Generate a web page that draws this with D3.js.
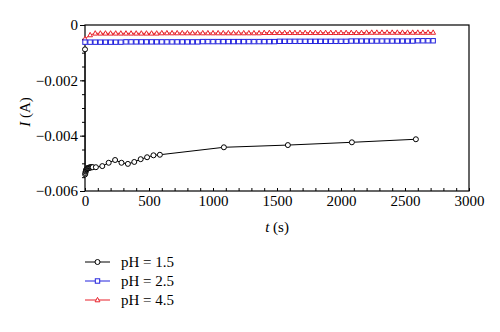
<!DOCTYPE html>
<html>
<head>
<meta charset="utf-8">
<script src="https://cdn.jsdelivr.net/npm/d3@7"></script>
<style>
  html, body { margin: 0; padding: 0; background: #fff; }
  svg text { font-family: "Liberation Serif", "DejaVu Serif", serif !important; }
</style>
</head>
<body>
<svg id="chart" width="500" height="332"></svg>
<script>
// ---- data ----
const seriesNames = ["pH = 1.5", "pH = 2.5", "pH = 4.5"];
const xTicks = [0, 500, 1000, 1500, 2000, 2500, 3000];
const yTicks = [0, -0.002, -0.004, -0.006];
const yTickLabels = ["0", "\u22120.002", "\u22120.004", "\u22120.006"];

// pH = 1.5
const t15 = [0, 1, 3, 5, 7, 9, 11, 14, 17, 20, 24, 28, 32, 36, 40, 45, 50, 55, 60,
             85, 135, 185, 235, 285, 335, 385, 435, 485, 535, 585,
             1085, 1585, 2085, 2585];
const i15 = [-0.00088, -0.00540, -0.00535, -0.00530, -0.00527, -0.00524, -0.00522, -0.00520, -0.00519, -0.00518,
             -0.00517, -0.00516, -0.00516, -0.00515, -0.00515, -0.00515, -0.00514, -0.00514, -0.00514,
             -0.00514, -0.00510, -0.00498, -0.00488, -0.00498, -0.00502, -0.00495, -0.00485, -0.00478, -0.00471, -0.00469,
             -0.00442, -0.00434, -0.00424, -0.00413];

// time grid for pH = 2.5 and pH = 4.5
const tGrid = [0, 40, 80, 120, 160, 200, 240, 280, 320, 360, 400, 440, 480, 520, 560, 600,
               640, 680, 720, 760, 800, 840, 880, 920, 960, 1000, 1040, 1080, 1120, 1160, 1200,
               1240, 1280, 1320, 1360, 1400, 1440, 1480, 1520, 1560, 1600, 1640, 1680, 1720, 1760,
               1800, 1840, 1880, 1920, 1960, 2000, 2040, 2080, 2120, 2160, 2200, 2240, 2280, 2320,
               2360, 2400, 2440, 2480, 2520, 2560, 2600, 2640, 2680, 2720];

// pH = 2.5
const i25 = [-0.00062, -0.00062, -0.00062, -0.00062, -0.00062, -0.00062, -0.00062, -0.00062, -0.00061, -0.00061,
             -0.00061, -0.00061, -0.00061, -0.00061, -0.00061, -0.00061, -0.00061, -0.00061, -0.00061, -0.00061,
             -0.00061, -0.00061, -0.00061, -0.00060, -0.00060, -0.00060, -0.00060, -0.00060, -0.00060, -0.00060,
             -0.00060, -0.00060, -0.00060, -0.00060, -0.00060, -0.00060, -0.00060, -0.00060, -0.00059, -0.00059,
             -0.00059, -0.00059, -0.00059, -0.00059, -0.00059, -0.00059, -0.00059, -0.00059, -0.00059, -0.00059,
             -0.00059, -0.00059, -0.00058, -0.00058, -0.00058, -0.00058, -0.00058, -0.00058, -0.00058, -0.00058,
             -0.00058, -0.00058, -0.00058, -0.00058, -0.00058, -0.00057, -0.00057, -0.00057, -0.00057];

// pH = 4.5
const i45 = [-0.00050, -0.00036, -0.00030, -0.00030, -0.00030, -0.00030, -0.00030, -0.00030, -0.00030, -0.00030,
             -0.00030, -0.00030, -0.00030, -0.00030, -0.00030, -0.00029, -0.00029, -0.00029, -0.00029, -0.00029,
             -0.00029, -0.00029, -0.00029, -0.00029, -0.00029, -0.00029, -0.00029, -0.00029, -0.00029, -0.00029,
             -0.00029, -0.00029, -0.00029, -0.00029, -0.00029, -0.00028, -0.00028, -0.00028, -0.00028, -0.00028,
             -0.00028, -0.00028, -0.00028, -0.00028, -0.00028, -0.00028, -0.00028, -0.00028, -0.00028, -0.00028,
             -0.00028, -0.00028, -0.00028, -0.00028, -0.00028, -0.00027, -0.00027, -0.00027, -0.00027, -0.00027,
             -0.00027, -0.00027, -0.00027, -0.00027, -0.00027, -0.00027, -0.00027, -0.00027, -0.00027];

// ---- layout ----
const svg = d3.select("#chart");
const L = 85, R = 469, T = 25, B = 191;
const x = d3.scaleLinear().domain([0, 3000]).range([L, R]);
const y = d3.scaleLinear().domain([-0.006, 0]).range([B, T]);
const FONT = "'Liberation Serif', 'DejaVu Serif', serif";

const series = [
  { name: seriesNames[0], t: t15, v: i15, color: "#000000", sym: "circle" },
  { name: seriesNames[1], t: tGrid, v: i25, color: "#2222dd", sym: "square" },
  { name: seriesNames[2], t: tGrid, v: i45, color: "#e8212a", sym: "triangle" }
];

// frame
svg.append("rect").attr("x", L).attr("y", T).attr("width", R - L).attr("height", B - T)
  .attr("fill", "none").attr("stroke", "#000").attr("stroke-width", 1.2);

// x axis: ticks inward
const xMinor = d3.range(0, 3001, 100);
svg.append("g").attr("transform", `translate(0,${B})`)
  .call(d3.axisTop(x).tickValues(xMinor).tickSize(3).tickFormat(""))
  .call(g => g.select(".domain").remove());
const xLab = svg.append("g").attr("transform", `translate(0,${B})`);
xLab.call(d3.axisBottom(x).tickValues(xTicks).tickSize(0).tickPadding(4).tickFormat(d3.format("d")))
  .call(g => g.select(".domain").remove());
xLab.attr("font-family", null).attr("font-size", null);
xLab.selectAll("text").style("font-size", "15px").style("font-family", FONT).attr("fill", "#000");

// y axis: ticks outward
const yMinor = d3.range(0, 13).map(k => -0.0005 * k);
svg.append("g").attr("transform", `translate(${L},0)`)
  .call(d3.axisLeft(y).tickValues(yMinor).tickSize(3).tickFormat(""))
  .call(g => g.select(".domain").remove());
const yLab = svg.append("g").attr("transform", `translate(${L},0)`);
yLab.call(d3.axisLeft(y).tickValues(yTicks).tickSize(5).tickPadding(2)
    .tickFormat((d, i) => yTickLabels[i]))
  .call(g => g.select(".domain").remove());
yLab.attr("font-family", null).attr("font-size", null);
yLab.selectAll("text").style("font-size", "15px").style("font-family", FONT).attr("fill", "#000");
svg.selectAll(".tick line").attr("stroke", "#000");

// axis titles
svg.append("text").attr("x", 277).attr("y", 232).attr("text-anchor", "middle")
  .style("font-size", "15px").style("font-family", FONT)
  .call(t => { t.append("tspan").attr("font-style", "italic").text("t"); t.append("tspan").text(" (s)"); });
svg.append("text").attr("transform", "translate(30,112) rotate(-90)").attr("text-anchor", "middle")
  .style("font-size", "15px").style("font-family", FONT)
  .call(t => { t.append("tspan").attr("font-style", "italic").text("I"); t.append("tspan").text(" (A)"); });

// markers
function drawMarker(g, sym, cx, cy, color) {
  if (sym === "circle") {
    g.append("circle").attr("cx", cx).attr("cy", cy).attr("r", 2.5)
      .attr("fill", "#fff").attr("stroke", color).attr("stroke-width", 1);
  } else if (sym === "square") {
    g.append("rect").attr("x", cx - 2.2).attr("y", cy - 2.2).attr("width", 4.4).attr("height", 4.4)
      .attr("fill", "#fff").attr("stroke", color).attr("stroke-width", 1);
  } else {
    g.append("path").attr("d", `M${cx},${cy - 2.6}L${cx + 2.4},${cy + 1.8}L${cx - 2.4},${cy + 1.8}Z`)
      .attr("fill", "#fff").attr("stroke", color).attr("stroke-width", 1);
  }
}

const line = d3.line().x(d => x(d[0])).y(d => y(d[1]));
series.slice().reverse().forEach(s => {
  const pts = s.t.map((t, i) => [t, s.v[i]]);
  const g = svg.append("g");
  g.append("path").attr("d", line(pts)).attr("fill", "none")
    .attr("stroke", s.color).attr("stroke-width", 1);
  pts.forEach(p => drawMarker(g, s.sym, x(p[0]), y(p[1]), s.color));
});

// legend
const legY = [262, 281, 300];
series.forEach((s, i) => {
  const g = svg.append("g");
  g.append("line").attr("x1", 85).attr("x2", 110).attr("y1", legY[i]).attr("y2", legY[i])
    .attr("stroke", s.color).attr("stroke-width", 1);
  drawMarker(g, s.sym, 97.5, legY[i], s.color);
  g.append("text").attr("x", 121).attr("y", legY[i] + 5)
    .style("font-size", "15px").style("font-family", FONT).text(s.name);
});
</script>
</body>
</html>
